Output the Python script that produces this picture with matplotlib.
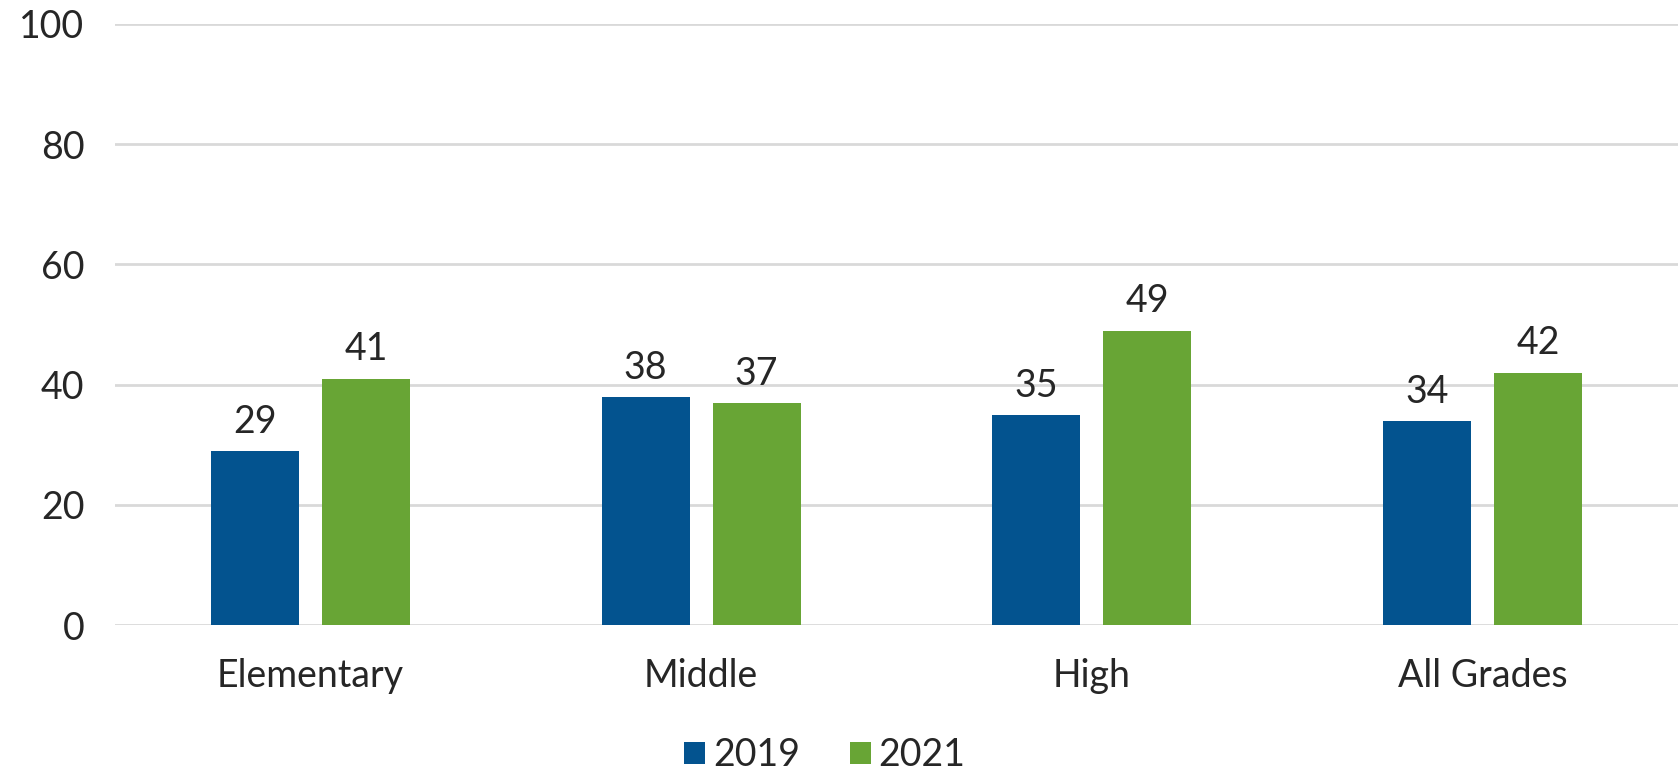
import matplotlib
matplotlib.use("Agg")
import matplotlib.pyplot as plt
import numpy as np

categories = ["Elementary", "Middle", "High", "All Grades"]
series_names = ["2019", "2021"]
values_2019 = [29, 38, 35, 34]
values_2021 = [41, 37, 49, 42]
yticks = [0, 20, 40, 60, 80, 100]

plt.rcParams['font.family'] = ['Lato', 'DejaVu Sans']
txt = '#262626'
c19 = '#03538F'
c21 = '#68A535'

fig = plt.figure(figsize=(16.78, 7.79), dpi=100)
ax = fig.add_axes([115/1678, 1-625/779, (1678-115)/1678, (625-24)/779])

x = np.arange(len(categories))
w = 0.225
off = 0.142
b1 = ax.bar(x - off, values_2019, w, color=c19, label=series_names[0], zorder=3)
b2 = ax.bar(x + off, values_2021, w, color=c21, label=series_names[1], zorder=3)
for bars in (b1, b2):
    ax.bar_label(bars, padding=8, fontsize=27, color=txt)

ax.set_xlim(-0.5, len(categories) - 0.5)
ax.set_ylim(0, 100)
ax.set_yticks(yticks)
ax.set_xticks(x)
ax.set_xticklabels(categories)
ax.tick_params(axis='both', length=0, labelsize=27, labelcolor=txt)
ax.tick_params(axis='y', pad=22)
ax.tick_params(axis='x', pad=24)
ax.grid(axis='y', color='#D9D9D9', linewidth=2, zorder=0)
for s in ax.spines.values():
    s.set_visible(False)

leg = fig.legend(handles=[b1, b2], labels=series_names, loc='lower center',
                 bbox_to_anchor=(0.4915, -0.036), ncol=2, frameon=False,
                 fontsize=27, handlelength=0.56, handleheight=0.56,
                 handletextpad=0.2, columnspacing=1.33, labelcolor=txt)

fig.savefig("out.png", dpi=100)
